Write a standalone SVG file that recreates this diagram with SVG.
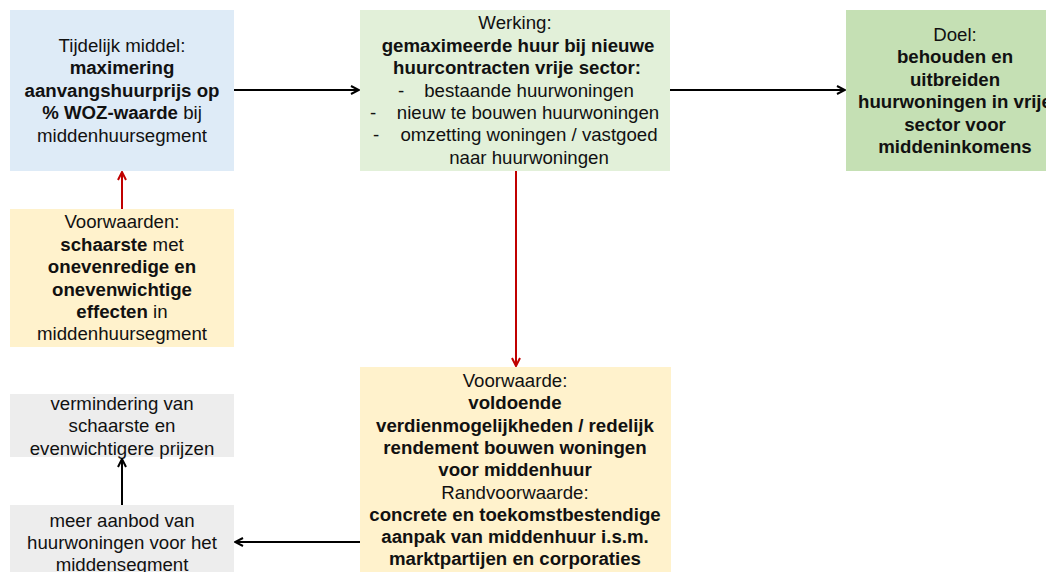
<svg xmlns="http://www.w3.org/2000/svg" width="1046" height="572" viewBox="0 0 1046 572">
<style>
text{font-family:"Liberation Sans",Arial,sans-serif;font-size:18.67px;fill:#111;text-anchor:middle}
.b{font-weight:bold}
.con{fill:none;stroke-width:2}
.k{stroke:#000}
.r{stroke:#c00000}
</style>
<defs>
<marker id="ak" viewBox="0 0 10 10" refX="9" refY="5" markerWidth="10" markerHeight="10" markerUnits="userSpaceOnUse" orient="auto"><path d="M1,1 L9,5 L1,9" fill="none" stroke="#000" stroke-width="2"/></marker>
<marker id="ar" viewBox="0 0 10 10" refX="9" refY="5" markerWidth="10" markerHeight="10" markerUnits="userSpaceOnUse" orient="auto"><path d="M1,1 L9,5 L1,9" fill="none" stroke="#c00000" stroke-width="2"/></marker>
</defs>
<rect width="1046" height="572" fill="#fff"/>
<g id="connectors">
<path class="con k" d="M234,90 L359,90" marker-end="url(#ak)"/>
<path class="con k" d="M670,90 L845,90" marker-end="url(#ak)"/>
<path class="con r" d="M122,209 L122,172" marker-end="url(#ar)"/>
<path class="con r" d="M516,171 L516,366" marker-end="url(#ar)"/>
<path class="con k" d="M360,542 L235,542" marker-end="url(#ak)"/>
</g>
<g id="n1">
<rect x="10" y="10" width="224" height="161" fill="#deebf7"/>
<text x="122" y="52">Tijdelijk middel:</text>
<text x="122" y="74.4" class="b">maximering</text>
<text x="122" y="96.8" class="b">aanvangshuurprijs op</text>
<text x="122" y="119.2"><tspan class="b">% WOZ-waarde</tspan> bij</text>
<text x="122" y="141.6">middenhuursegment</text>
</g>
<g id="n2">
<rect x="360" y="10" width="310" height="161" fill="#e2f0d9"/>
<text x="515" y="29.3">Werking:</text>
<text x="518" y="51.7" class="b">gemaximeerde huur bij nieuwe</text>
<text x="517" y="74.1" class="b">huurcontracten vrije sector:</text>
<text x="401" y="96.5">-</text>
<text x="529" y="96.5">bestaande huurwoningen</text>
<text x="373" y="118.9">-</text>
<text x="528" y="118.9">nieuw te bouwen huurwoningen</text>
<text x="376" y="141.3">-</text>
<text x="529" y="141.3">omzetting woningen / vastgoed</text>
<text x="529" y="163.7">naar huurwoningen</text>
</g>
<g id="n3">
<rect x="846" y="10" width="218" height="161" fill="#c5e0b4"/>
<text x="955" y="41">Doel:</text>
<text x="955" y="63.4" class="b">behouden en</text>
<text x="955" y="85.8" class="b">uitbreiden</text>
<text x="955" y="108.2" class="b">huurwoningen in vrije</text>
<text x="955" y="130.6" class="b">sector voor</text>
<text x="955" y="153" class="b">middeninkomens</text>
</g>
<g id="n4">
<rect x="10" y="209" width="224" height="138" fill="#fff2cc"/>
<text x="122" y="228.3">Voorwaarden:</text>
<text x="122" y="250.7"><tspan class="b">schaarste</tspan> met</text>
<text x="122" y="273.1" class="b">onevenredige en</text>
<text x="122" y="295.5" class="b">onevenwichtige</text>
<text x="122" y="317.9"><tspan class="b">effecten</tspan> in</text>
<text x="122" y="340.3">middenhuursegment</text>
</g>
<g id="n7">
<rect x="360" y="367" width="311" height="205" fill="#fff2cc"/>
<text x="515" y="387">Voorwaarde:</text>
<text x="515" y="409.3" class="b">voldoende</text>
<text x="515" y="431.6" class="b">verdienmogelijkheden / redelijk</text>
<text x="515" y="453.9" class="b">rendement bouwen woningen</text>
<text x="515" y="476.2" class="b">voor middenhuur</text>
<text x="515" y="498.5">Randvoorwaarde:</text>
<text x="515" y="520.8" class="b">concrete en toekomstbestendige</text>
<text x="515" y="543.1" class="b">aanpak van middenhuur i.s.m.</text>
<text x="515" y="565.4" class="b">marktpartijen en corporaties</text>
</g>
<g id="n5">
<rect x="10" y="394" width="224" height="63" fill="#ededed"/>
<text x="122" y="410">vermindering van</text>
<text x="122" y="432.4">schaarste en</text>
<text x="122" y="454.8">evenwichtigere prijzen</text>
</g>
<g id="n6">
<rect x="10" y="505" width="224" height="67" fill="#ededed"/>
<text x="122" y="526.5">meer aanbod van</text>
<text x="122" y="548.9">huurwoningen voor het</text>
<text x="122" y="571.3">middensegment</text>
</g>
<g id="connectors-over">
<path class="con k" d="M122,505 L122,459" marker-end="url(#ak)"/>
</g>
</svg>
